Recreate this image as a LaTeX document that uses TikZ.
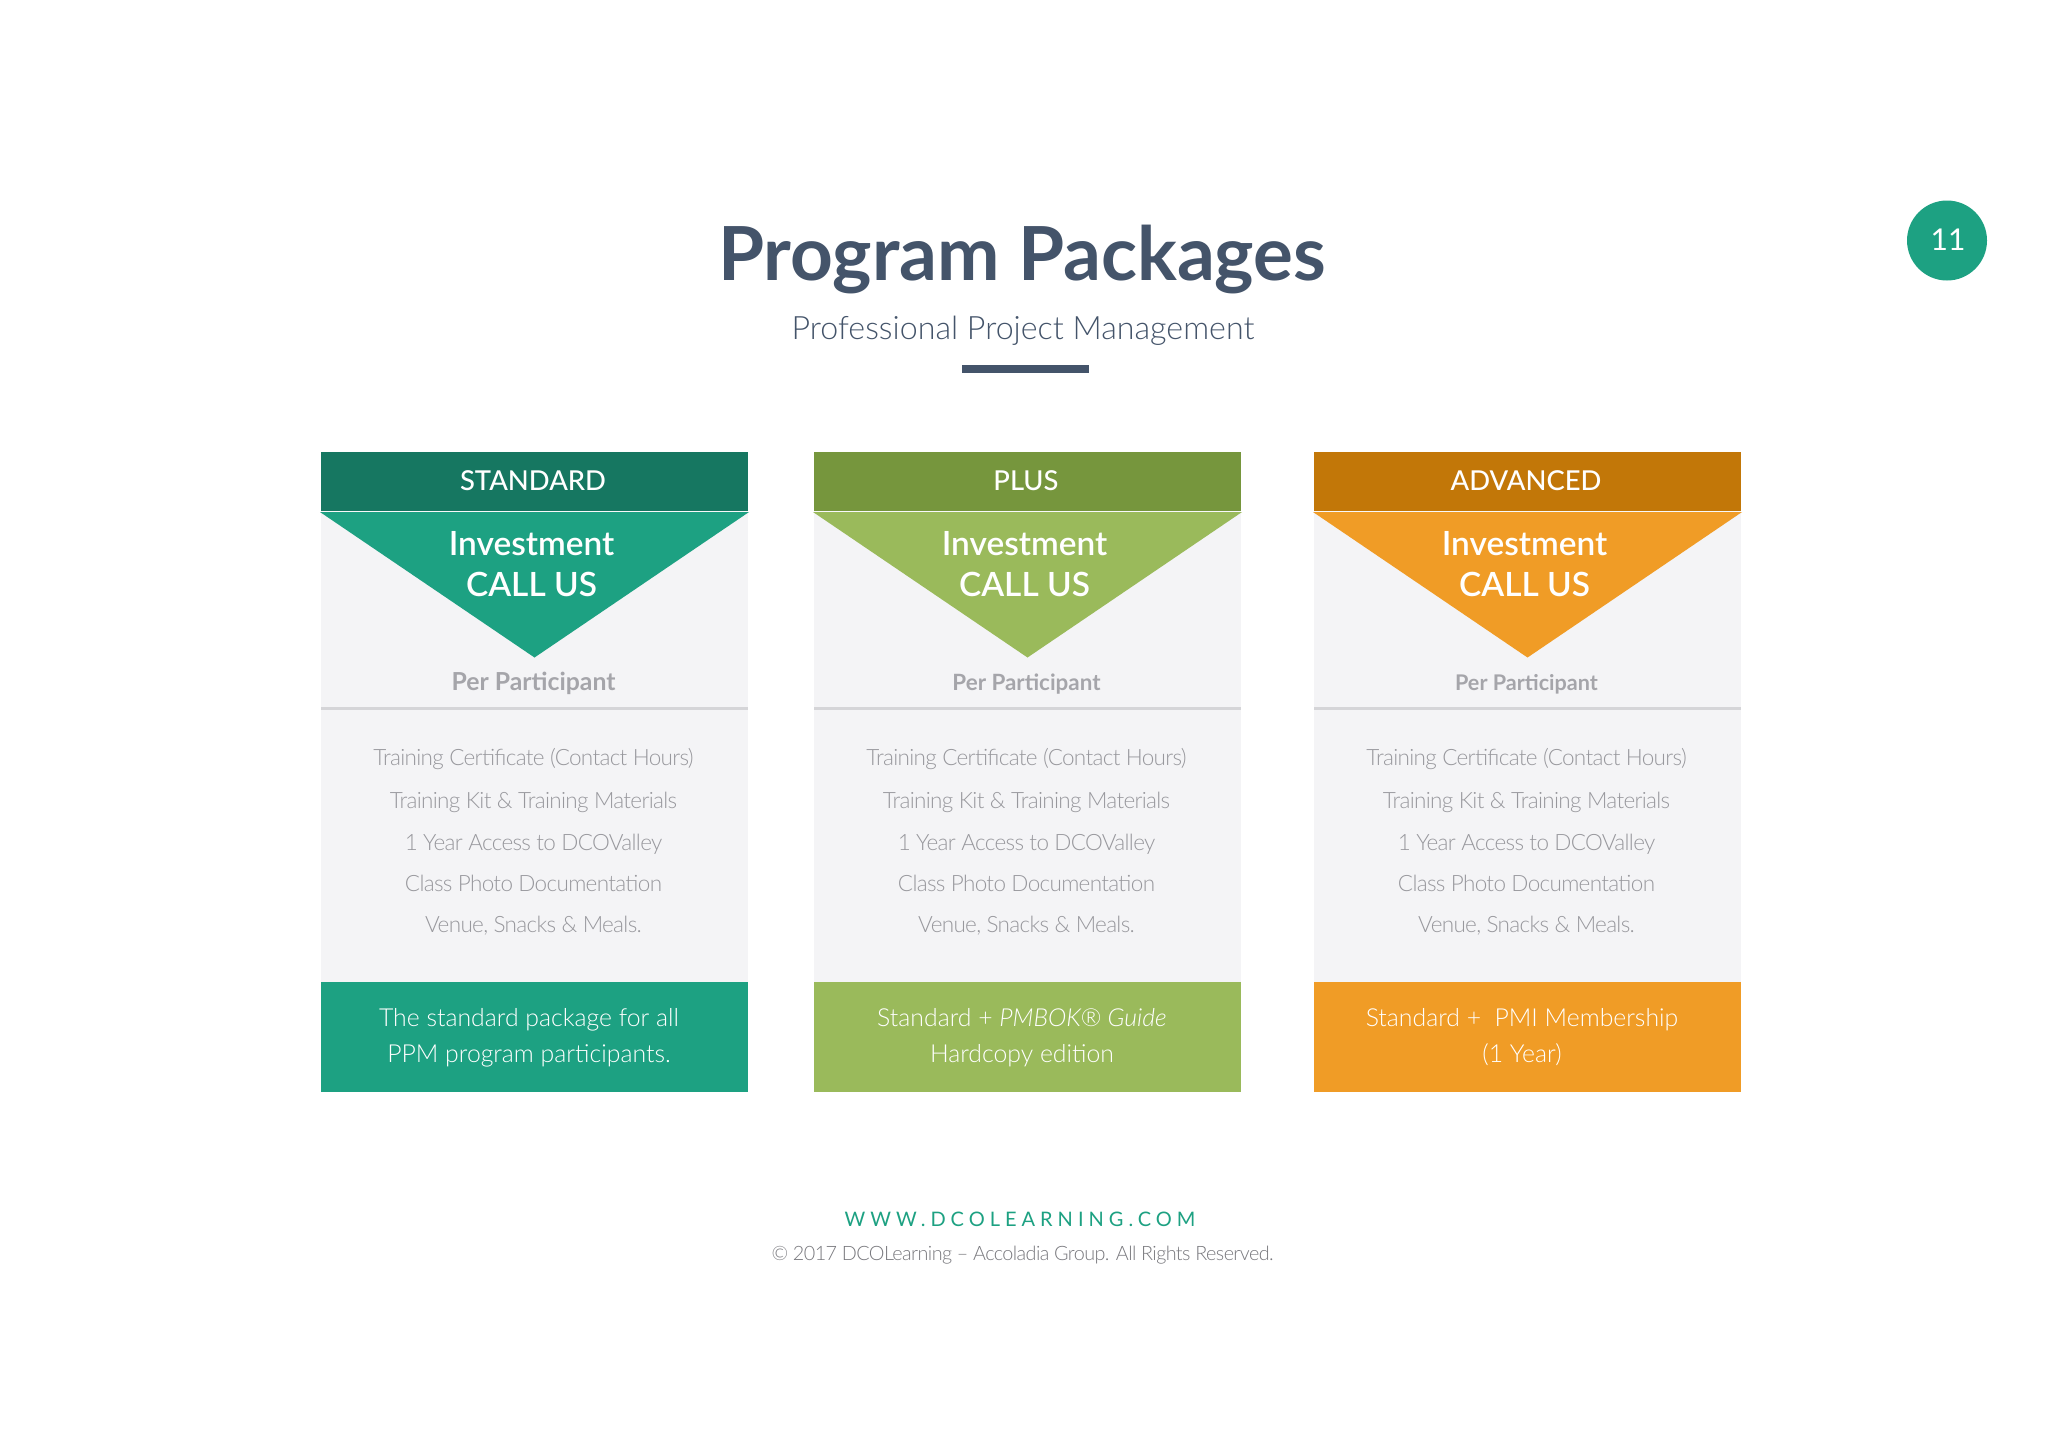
\documentclass[tikz,border=0pt]{standalone}
\usepackage{fontspec}
\setmainfont{Lato}
\newfontfamily\lgt[LetterSpace=-3]{Lato Light}
\newfontfamily\lgtplain{Lato Light}
\newfontfamily\med{Lato Medium}
\newfontfamily\semi{Lato Semibold}
\newfontfamily\wide[LetterSpace=25]{Lato}
\definecolor{slate}{HTML}{44546A}
\definecolor{tealM}{HTML}{1DA182}
\definecolor{tealD}{HTML}{167761}
\definecolor{greenM}{HTML}{9ABA5B}
\definecolor{greenD}{HTML}{76963D}
\definecolor{orangeM}{HTML}{F09C26}
\definecolor{orangeD}{HTML}{C27708}
\definecolor{panel}{HTML}{F4F4F6}
\definecolor{rulegray}{HTML}{D5D5D8}
\definecolor{txtgray}{HTML}{98989D}
\definecolor{pergray}{HTML}{A5A5AA}
\definecolor{copygray}{HTML}{78787D}
\tikzset{
  lbl/.style={inner sep=0pt,outer sep=0pt,anchor=base,align=center},
  headtxt/.style={lbl,text=white,font=\med\fontsize{13.7}{13.7}\selectfont},
  investtxt/.style={lbl,text=white,font=\semi\fontsize{16.7}{16.7}\selectfont},
  feature/.style={lbl,text=txtgray,font=\lgt\fontsize{11.25}{11.25}\selectfont},
  foottxt/.style={lbl,text=white,font=\lgtplain\fontsize{12.4}{12.4}\selectfont},
}
\newcommand{\pkgcard}[8]{%
  % #1 id, #2 left, #3 dark, #4 main, #5 per-participant size, #6 head, #7 footer 1, #8 footer 2
  \fill[panel] (#2,511) rectangle ({#2+427},982);
  \fill[#3] (#2,452) rectangle ({#2+427},511);
  \fill[#4] ({#2-1},512) -- ({#2+428},512) -- ({#2+213.5},657.5) -- cycle;
  \draw[white,opacity=.45,line width=.5pt] ({#2},511) -- ({#2+427},511);
  \fill[rulegray] (#2,706.5) rectangle ({#2+427},709.5);
  \fill[#4] (#2,982) rectangle ({#2+427},1092);
  \node[headtxt] (head#1) at ({#2+212},490) {#6};
  \node[investtxt] (inva#1) at ({#2+210.5},555) {Investment};
  \node[investtxt] (invb#1) at ({#2+210.5},596) {CALL US};
  \node[lbl,text=pergray,font=\fontsize{#5}{#5}\selectfont\bfseries] (per#1) at ({#2+212.5},690.5) {Per Participant};
  \node[feature] (fa#1) at ({#2+212.5},765) {Training Certificate (Contact Hours)};
  \node[feature] (fb#1) at ({#2+212.5},808) {Training Kit \& Training Materials};
  \node[feature] (fc#1) at ({#2+212.5},850) {1 Year Access to DCOValley};
  \node[feature] (fd#1) at ({#2+212.5},891) {Class Photo Documentation};
  \node[feature] (fe#1) at ({#2+212.5},932) {Venue, Snacks \& Meals.};
  \node[foottxt] (fta#1) at ({#2+208},1026) {#7};
  \node[foottxt] (ftb#1) at ({#2+208},1062) {#8};
}
\begin{document}
\begin{tikzpicture}[x=0.5pt,y=-0.5pt]
\useasboundingbox (0,0) rectangle (2048,1447);
\fill[white] (0,0) rectangle (2048,1447);
\node[lbl,text=slate,font=\fontsize{37.3}{37.3}\selectfont\bfseries] (title) at (1022,280.5) {Program Packages};
\node[lbl,text=slate,font=\lgtplain\fontsize{16.1}{16.1}\selectfont] (subtitle) at (1023,339.5) {Professional Project Management};
\fill[slate] (962,365) rectangle (1089,373);
\node[circle,fill=tealM,minimum size=40pt,inner sep=0pt] (badge) at (1947,240.5) {};
\node[lbl,text=white,font=\fontsize{15}{15}\selectfont] (pageno) at (1948,250) {11};
\pkgcard{a}{321}{tealD}{tealM}{12.4}{STANDARD}{The standard package for all}{PPM program participants.}
\pkgcard{b}{814}{greenD}{greenM}{11.2}{PLUS}{Standard + \textit{PMBOK® Guide}}{Hardcopy edition}
\pkgcard{c}{1314}{orangeD}{orangeM}{10.8}{ADVANCED}{Standard +\ \ PMI Membership}{(1 Year)}
\node[lbl,text=tealM,font=\wide\fontsize{10}{10}\selectfont] (web) at (1020,1226) {WWW.DCOLEARNING.COM};
\node[lbl,text=copygray,font=\lgt\fontsize{9.9}{9.9}\selectfont] (copy) at (1022.5,1260) {© 2017 DCOLearning – Accoladia Group. All Rights Reserved.};
\end{tikzpicture}
\end{document}
